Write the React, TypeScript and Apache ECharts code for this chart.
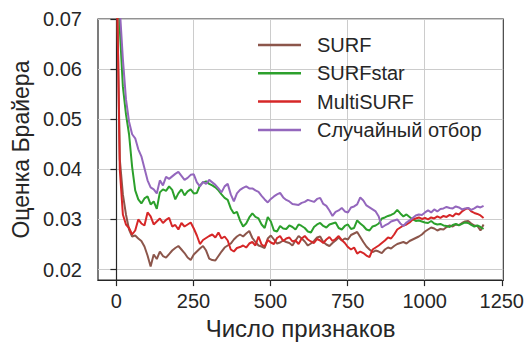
import React, { useEffect, useRef } from "react";
import * as echarts from "echarts";

const SERIES_NAMES = ["SURF", "SURFstar", "MultiSURF", "Случайный отбор"];
const COLORS = ["#8c564b", "#2ca02c", "#d62728", "#9467bd"];
const X_TICKS = [0, 250, 500, 750, 1000, 1250];
const Y_TICKS = [0.02, 0.03, 0.04, 0.05, 0.06, 0.07];
const X_TITLE = "Число признаков";
const Y_TITLE = "Оценка Брайера";

// values sampled every 10 features, starting at 1
const SURF = [
  0.0800, 0.0420, 0.0350, 0.0310, 0.0280, 0.0266, 0.0268, 0.0262, 0.0257, 0.0246,
  0.0228, 0.0206, 0.0230, 0.0221, 0.0236, 0.0227, 0.0224, 0.0231, 0.0238, 0.0243,
  0.0247, 0.0240, 0.0233, 0.0224, 0.0219, 0.0230, 0.0236, 0.0242, 0.0247, 0.0238,
  0.0222, 0.0219, 0.0218, 0.0227, 0.0236, 0.0244, 0.0248, 0.0252, 0.0260, 0.0266,
  0.0270, 0.0266, 0.0272, 0.0277, 0.0263, 0.0255, 0.0248, 0.0246, 0.0243, 0.0262,
  0.0268, 0.0260, 0.0252, 0.0254, 0.0258, 0.0255, 0.0253, 0.0248, 0.0258, 0.0267,
  0.0262, 0.0256, 0.0248, 0.0252, 0.0257, 0.0264, 0.0266, 0.0255, 0.0250, 0.0247,
  0.0253, 0.0258, 0.0264, 0.0258, 0.0262, 0.0260, 0.0269, 0.0272, 0.0275, 0.0265,
  0.0255, 0.0246, 0.0240, 0.0235, 0.0238, 0.0236, 0.0233, 0.0240, 0.0244, 0.0242,
  0.0247, 0.0251, 0.0253, 0.0255, 0.0252, 0.0257, 0.0260, 0.0263, 0.0266, 0.0270,
  0.0276, 0.0280, 0.0284, 0.0282, 0.0278, 0.0281, 0.0280, 0.0285, 0.0288, 0.0286,
  0.0290, 0.0289, 0.0293, 0.0296, 0.0297, 0.0292, 0.0288, 0.0287, 0.0278, 0.0290,
];

const SURFSTAR = [
  0.0950, 0.0680, 0.0565, 0.0510, 0.0470, 0.0405, 0.0358, 0.0340, 0.0332, 0.0342,
  0.0346, 0.0330, 0.0336, 0.0321, 0.0354, 0.0360, 0.0357, 0.0366, 0.0359, 0.0340,
  0.0352, 0.0360, 0.0348, 0.0356, 0.0360, 0.0352, 0.0353, 0.0368, 0.0374, 0.0376,
  0.0371, 0.0368, 0.0364, 0.0358, 0.0350, 0.0343, 0.0339, 0.0322, 0.0312, 0.0315,
  0.0298, 0.0286, 0.0292, 0.0304, 0.0312, 0.0305, 0.0302, 0.0290, 0.0283, 0.0305,
  0.0296, 0.0278, 0.0276, 0.0287, 0.0282, 0.0281, 0.0288, 0.0285, 0.0280, 0.0290,
  0.0287, 0.0283, 0.0276, 0.0274, 0.0285, 0.0290, 0.0293, 0.0287, 0.0284, 0.0290,
  0.0292, 0.0294, 0.0283, 0.0280, 0.0287, 0.0290, 0.0281, 0.0283, 0.0298, 0.0292,
  0.0287, 0.0280, 0.0278, 0.0286, 0.0288, 0.0292, 0.0302, 0.0304, 0.0307, 0.0309,
  0.0312, 0.0319, 0.0312, 0.0306, 0.0310, 0.0305, 0.0300, 0.0297, 0.0298, 0.0296,
  0.0294, 0.0293, 0.0297, 0.0292, 0.0290, 0.0291, 0.0288, 0.0287, 0.0285, 0.0289,
  0.0291, 0.0288, 0.0291, 0.0294, 0.0293, 0.0289, 0.0286, 0.0288, 0.0285, 0.0281,
];

const MULTISURF = [
  0.0800, 0.0400, 0.0310, 0.0290, 0.0283, 0.0270, 0.0278, 0.0300, 0.0292, 0.0288,
  0.0314, 0.0306, 0.0290, 0.0296, 0.0302, 0.0293, 0.0299, 0.0303, 0.0286, 0.0289,
  0.0280, 0.0293, 0.0286, 0.0290, 0.0294, 0.0282, 0.0268, 0.0251, 0.0259, 0.0263,
  0.0267, 0.0270, 0.0264, 0.0274, 0.0262, 0.0266, 0.0258, 0.0240, 0.0236, 0.0243,
  0.0245, 0.0248, 0.0244, 0.0252, 0.0255, 0.0248, 0.0266, 0.0250, 0.0246, 0.0259,
  0.0254, 0.0251, 0.0263, 0.0267, 0.0257, 0.0262, 0.0264, 0.0256, 0.0258, 0.0251,
  0.0262, 0.0267, 0.0260, 0.0256, 0.0253, 0.0261, 0.0258, 0.0253, 0.0260, 0.0265,
  0.0257, 0.0261, 0.0267, 0.0259, 0.0253, 0.0245, 0.0240, 0.0244, 0.0232, 0.0236,
  0.0233, 0.0228, 0.0225, 0.0240, 0.0244, 0.0248, 0.0253, 0.0258, 0.0264, 0.0262,
  0.0270, 0.0280, 0.0284, 0.0288, 0.0290, 0.0294, 0.0300, 0.0302, 0.0304, 0.0301,
  0.0303, 0.0300, 0.0304, 0.0302, 0.0306, 0.0303, 0.0307, 0.0305, 0.0309, 0.0306,
  0.0312, 0.0310, 0.0316, 0.0320, 0.0323, 0.0316, 0.0313, 0.0311, 0.0308, 0.0303,
];

const RANDOM_SEL = [
  0.1000, 0.0720, 0.0620, 0.0540, 0.0495, 0.0470, 0.0462, 0.0440, 0.0426, 0.0402,
  0.0378, 0.0364, 0.0360, 0.0352, 0.0378, 0.0368, 0.0385, 0.0381, 0.0386, 0.0391,
  0.0395, 0.0387, 0.0379, 0.0383, 0.0389, 0.0390, 0.0374, 0.0366, 0.0375, 0.0371,
  0.0379, 0.0374, 0.0369, 0.0362, 0.0354, 0.0366, 0.0371, 0.0350, 0.0336, 0.0352,
  0.0359, 0.0363, 0.0366, 0.0362, 0.0362, 0.0358, 0.0355, 0.0347, 0.0340, 0.0334,
  0.0341, 0.0346, 0.0350, 0.0353, 0.0344, 0.0339, 0.0336, 0.0331, 0.0330, 0.0329,
  0.0333, 0.0335, 0.0339, 0.0337, 0.0335, 0.0341, 0.0343, 0.0331, 0.0327, 0.0318,
  0.0307, 0.0315, 0.0318, 0.0323, 0.0316, 0.0314, 0.0324, 0.0326, 0.0330, 0.0344,
  0.0338, 0.0328, 0.0324, 0.0320, 0.0316, 0.0306, 0.0284, 0.0288, 0.0291, 0.0296,
  0.0298, 0.0300, 0.0292, 0.0287, 0.0294, 0.0298, 0.0303, 0.0308, 0.0310, 0.0309,
  0.0314, 0.0318, 0.0314, 0.0320, 0.0316, 0.0321, 0.0322, 0.0325, 0.0323, 0.0322,
  0.0326, 0.0324, 0.0320, 0.0322, 0.0323, 0.0319, 0.0322, 0.0326, 0.0324, 0.0327,
];

const FEATURE_COUNTS = SURF.map((_, i) => 1 + 10 * i);
const ALL_VALUES = [SURF, SURFSTAR, MULTISURF, RANDOM_SEL];

const FONT = "'Liberation Sans', Arial, sans-serif";
const TEXT = "#262626";

export default function App() {
  const ref = useRef<HTMLDivElement>(null);
  useEffect(() => {
    document.body.style.margin = "0";
    if (!ref.current) return;
    const chart = echarts.init(ref.current, undefined, { renderer: "svg" });
    chart.setOption({
      animation: false,
      textStyle: { fontFamily: FONT, color: TEXT },
      grid: {
        left: 98,
        top: 19,
        right: 21,
        bottom: 61,
        show: true,
        borderColor: TEXT,
        borderWidth: 1.2,
        backgroundColor: "transparent",
      },
      legend: {
        left: 258,
        top: 34,
        padding: 0,
        orient: "vertical",
        icon: "rect",
        itemWidth: 43,
        itemHeight: 2.5,
        itemGap: 6.3,
        textStyle: {
          fontFamily: FONT,
          fontSize: 20,
          color: TEXT,
          lineHeight: 22,
          padding: [0, 0, 0, 11],
        },
        data: SERIES_NAMES,
      },
      xAxis: {
        type: "value",
        min: -59.7,
        max: 1254.7,
        name: X_TITLE,
        nameLocation: "middle",
        nameGap: 27,
        nameTextStyle: { fontFamily: FONT, fontSize: 24, color: TEXT },
        axisLine: { show: true, lineStyle: { color: TEXT, width: 1.2 } },
        axisTick: {
          show: true,
          length: 6,
          customValues: X_TICKS,
          lineStyle: { color: TEXT, width: 1.2 },
        },
        axisLabel: {
          customValues: X_TICKS,
          fontFamily: FONT,
          fontSize: 20,
          color: TEXT,
          margin: 11,
          formatter: (v: number) => String(v),
        },
        splitLine: { show: true, lineStyle: { color: "#cccccc", width: 1 } },
      },
      yAxis: {
        type: "value",
        min: 0.0179,
        max: 0.07,
        name: Y_TITLE,
        nameLocation: "middle",
        nameGap: 64,
        nameTextStyle: { fontFamily: FONT, fontSize: 23, color: TEXT },
        axisLine: { show: true, lineStyle: { color: TEXT, width: 1.2 } },
        axisTick: {
          show: true,
          length: 6,
          customValues: Y_TICKS,
          lineStyle: { color: TEXT, width: 1.2 },
        },
        axisLabel: {
          customValues: Y_TICKS,
          fontFamily: FONT,
          fontSize: 20,
          color: TEXT,
          margin: 16,
          formatter: (v: number) => v.toFixed(2),
        },
        splitLine: { show: true, lineStyle: { color: "#cccccc", width: 1 } },
      },
      series: SERIES_NAMES.map((name, si) => ({
        name,
        type: "line",
        showSymbol: false,
        symbol: "none",
        clip: true,
        color: COLORS[si],
        lineStyle: { color: COLORS[si], width: 2 },
        data: ALL_VALUES[si].map((v, i) => [FEATURE_COUNTS[i], v]),
      })),
    });
    return () => chart.dispose();
  }, []);
  return <div ref={ref} style={{ width: 527, height: 345 }} />;
}
